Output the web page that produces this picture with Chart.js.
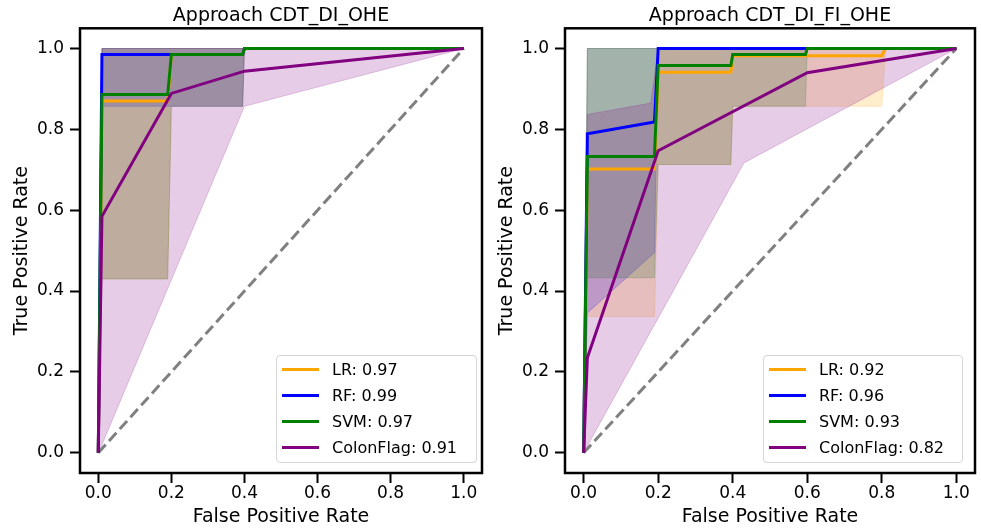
<!DOCTYPE html>
<html>
<head>
<meta charset="utf-8">
<script src="https://cdn.jsdelivr.net/npm/chart.js@4.4.0/dist/chart.umd.min.js"></script>
<style>
  body { margin: 0; background: #fff; font-family: "DejaVu Sans", sans-serif; }
  #wrap { position: relative; width: 981px; height: 530px; overflow: hidden; }
  canvas { position: absolute; top: 0; }
  #c-left { left: 0; }
  #c-right { left: 485px; }
  .legend { position: absolute; height: 108px; box-sizing: border-box; border: 1px solid #d6d6d6;
            border-radius: 4px; background: rgba(255,255,255,0.8); font-size: 16px; color: #000; }
  .legend .row { height: 26px; display: flex; align-items: center; white-space: nowrap; }
  .legend .swatch { flex: none; width: 37px; height: 3px; margin-left: 5px; margin-right: 13px; }
</style>
</head>
<body>
<div id="wrap">
  <canvas id="c-left" width="490" height="530"></canvas>
  <canvas id="c-right" width="496" height="530"></canvas>
  <div class="legend" id="leg-left" style="left:276px; top:355px; width:201px"></div>
  <div class="legend" id="leg-right" style="left:763px; top:355px; width:200px"></div>
</div>
<script>
const MODELS = ["LR", "RF", "SVM", "ColonFlag"];
const AUC_DI = [0.97, 0.99, 0.97, 0.91];
const AUC_DI_FI = [0.92, 0.96, 0.93, 0.82];
const TICKS = [0, 0.2, 0.4, 0.6, 0.8, 1.0];
const CHANCE_FPR = [0, 1];
const CHANCE_TPR = [0, 1];

// Approach CDT_DI_OHE: mean curves
const DI_LR_FPR = [0, 0.01, 0.19, 0.2, 0.395, 0.4, 1];
const DI_LR_TPR = [0, 0.87, 0.87, 0.985, 0.985, 1, 1];
const DI_RF_FPR = [0, 0.01, 0.2, 0.395, 0.4, 1];
const DI_RF_TPR = [0, 0.985, 0.985, 0.985, 1, 1];
const DI_SVM_FPR = [0, 0.01, 0.19, 0.2, 0.395, 0.4, 1];
const DI_SVM_TPR = [0, 0.886, 0.886, 0.985, 0.985, 1, 1];
const DI_CF_FPR = [0, 0.01, 0.2, 0.4, 1];
const DI_CF_TPR = [0, 0.585, 0.889, 0.944, 1];
// Approach CDT_DI_OHE: +/- std bands
const DI_LR_BAND_FPR = [0, 0.01, 0.19, 0.2, 0.395, 0.4, 1];
const DI_LR_LOWER = [0, 0.43, 0.43, 0.857, 0.857, 1, 1];
const DI_LR_UPPER = [0, 1, 1, 1, 1, 1, 1];
const DI_RF_BAND_FPR = [0, 0.01, 0.395, 0.4, 1];
const DI_RF_LOWER = [0, 0.857, 0.857, 1, 1];
const DI_RF_UPPER = [0, 1, 1, 1, 1];
const DI_SVM_BAND_FPR = [0, 0.01, 0.19, 0.2, 0.395, 0.4, 1];
const DI_SVM_LOWER = [0, 0.43, 0.43, 0.857, 0.857, 1, 1];
const DI_SVM_UPPER = [0, 1, 1, 1, 1, 1, 1];
const DI_CF_BAND_FPR = [0, 0.01, 0.4, 1];
const DI_CF_LOWER = [0, 0.02, 0.857, 1];
const DI_CF_UPPER = [0, 1, 1, 1];

// Approach CDT_DI_FI_OHE: mean curves
const FI_LR_FPR = [0, 0.01, 0.19, 0.2, 0.395, 0.4, 0.8, 0.81, 1];
const FI_LR_TPR = [0, 0.702, 0.702, 0.941, 0.941, 0.982, 0.982, 1, 1];
const FI_RF_FPR = [0, 0.01, 0.19, 0.2, 1];
const FI_RF_TPR = [0, 0.789, 0.818, 1, 1];
const FI_SVM_FPR = [0, 0.01, 0.19, 0.2, 0.395, 0.4, 0.595, 0.6, 1];
const FI_SVM_TPR = [0, 0.733, 0.733, 0.958, 0.958, 0.985, 0.985, 1, 1];
const FI_CF_FPR = [0, 0.01, 0.2, 0.6, 1];
const FI_CF_TPR = [0, 0.235, 0.747, 0.94, 1];
// Approach CDT_DI_FI_OHE: +/- std bands
const FI_LR_BAND_FPR = [0, 0.01, 0.19, 0.2, 0.395, 0.4, 0.8, 0.81, 1];
const FI_LR_LOWER = [0, 0.337, 0.337, 0.713, 0.713, 0.857, 0.857, 1, 1];
const FI_LR_UPPER = [0, 1, 1, 1, 1, 1, 1, 1, 1];
const FI_RF_BAND_FPR = [0, 0.01, 0.19, 0.2, 1];
const FI_RF_LOWER = [0, 0.346, 0.495, 1, 1];
const FI_RF_UPPER = [0, 1, 1, 1, 1];
const FI_SVM_BAND_FPR = [0, 0.01, 0.19, 0.2, 0.395, 0.4, 0.595, 0.6, 1];
const FI_SVM_LOWER = [0, 0.433, 0.433, 0.713, 0.713, 0.857, 0.857, 1, 1];
const FI_SVM_UPPER = [0, 1, 1, 1, 1, 1, 1, 1, 1];
const FI_CF_BAND_FPR = [0, 0.01, 0.18, 0.2, 0.43, 1];
const FI_CF_LOWER = [0, 0.017, 0.3, 0.333, 0.717, 1];
const FI_CF_UPPER = [0, 0.837, 0.865, 1, 1, 1];

const COLORS = ["#ffa500", "#0000ff", "#008000", "#800080"];
const FILLS = ["rgba(255,165,0,0.2)", "rgba(0,0,255,0.2)", "rgba(0,128,0,0.2)", "rgba(128,0,128,0.2)"];

Chart.defaults.font.family = "DejaVu Sans";
Chart.defaults.color = "#000";

const pts = (xs, ys) => xs.map((x, i) => ({ x, y: ys[i] }));

// black box around the plot area, like matplotlib spines
const framePlugin = {
  id: "frame",
  afterDatasetsDraw(chart) {
    const { ctx, chartArea: a } = chart;
    ctx.save();
    ctx.lineWidth = 2.5;
    ctx.strokeStyle = "#000";
    ctx.strokeRect(a.left, a.top, a.right - a.left, a.bottom - a.top);
    ctx.restore();
  },
};

function axis(titleText, isX) {
  return {
    type: "linear",
    min: -0.05,
    max: 1.05,
    afterBuildTicks: (s) => { s.ticks = TICKS.map((v) => ({ value: v })); },
    afterFit: (s) => { if (isX) s.height = 57; else s.width = 80; },
    ticks: { callback: (v) => v.toFixed(1), font: { size: 17 }, color: "#000", padding: isX ? 0 : 6, maxRotation: 0, autoSkip: false },
    grid: { drawOnChartArea: false, drawTicks: true, tickLength: 10, tickWidth: 2, tickColor: "#000" },
    border: { display: false },
    title: { display: true, text: titleText, font: { size: 19 }, color: "#000",
             padding: isX ? { top: 0, bottom: 2 } : { top: 11, bottom: 0 } },
  };
}

function rocChart(id, title, curves, bands, padRight) {
  const lines = MODELS.map((m, i) => ({
    label: m,
    data: pts(curves[i][0], curves[i][1]),
    borderColor: COLORS[i],
    borderWidth: 3,
    pointRadius: 0,
    fill: false,
  })).reverse();

  const datasets = [...lines, {
    label: "chance",
    data: pts(CHANCE_FPR, CHANCE_TPR),
    borderColor: "#808080",
    borderWidth: 3,
    borderDash: [11, 5],
    pointRadius: 0,
    fill: false,
  }];

  for (let i = MODELS.length - 1; i >= 0; i--) {
    const [fpr, lower, upper] = bands[i];
    datasets.push({ label: "lo", data: pts(fpr, lower), borderColor: FILLS[i], borderWidth: 1, pointRadius: 0, fill: false });
    datasets.push({ label: "hi", data: pts(fpr, upper), borderColor: FILLS[i], borderWidth: 1, pointRadius: 0,
                    backgroundColor: FILLS[i], fill: "-1" });
  }

  return new Chart(document.getElementById(id), {
    type: "line",
    data: { datasets },
    options: {
      animation: false,
      responsive: false,
      devicePixelRatio: 1,
      layout: { padding: { left: 0, right: padRight, top: 0, bottom: 0 } },
      scales: { x: axis("False Positive Rate", true), y: axis("True Positive Rate", false) },
      plugins: {
        legend: { display: false },
        tooltip: { enabled: false },
        title: { display: true, text: title, fullSize: false, font: { size: 19, weight: "normal" }, color: "#000",
                 padding: { top: 5, bottom: 0.5 } },
      },
    },
    plugins: [framePlugin],
  });
}

function buildLegend(id, aucs) {
  document.getElementById(id).innerHTML = MODELS.map((m, i) =>
    `<div class="row"><span class="swatch" style="background:${COLORS[i]}"></span>${m}: ${aucs[i].toFixed(2)}</div>`
  ).join("");
}

rocChart("c-left", "Approach CDT_DI_OHE",
  [[DI_LR_FPR, DI_LR_TPR], [DI_RF_FPR, DI_RF_TPR], [DI_SVM_FPR, DI_SVM_TPR], [DI_CF_FPR, DI_CF_TPR]],
  [[DI_LR_BAND_FPR, DI_LR_LOWER, DI_LR_UPPER], [DI_RF_BAND_FPR, DI_RF_LOWER, DI_RF_UPPER],
   [DI_SVM_BAND_FPR, DI_SVM_LOWER, DI_SVM_UPPER], [DI_CF_BAND_FPR, DI_CF_LOWER, DI_CF_UPPER]], 8);

rocChart("c-right", "Approach CDT_DI_FI_OHE",
  [[FI_LR_FPR, FI_LR_TPR], [FI_RF_FPR, FI_RF_TPR], [FI_SVM_FPR, FI_SVM_TPR], [FI_CF_FPR, FI_CF_TPR]],
  [[FI_LR_BAND_FPR, FI_LR_LOWER, FI_LR_UPPER], [FI_RF_BAND_FPR, FI_RF_LOWER, FI_RF_UPPER],
   [FI_SVM_BAND_FPR, FI_SVM_LOWER, FI_SVM_UPPER], [FI_CF_BAND_FPR, FI_CF_LOWER, FI_CF_UPPER]], 6);

buildLegend("leg-left", AUC_DI);
buildLegend("leg-right", AUC_DI_FI);
</script>
</body>
</html>
